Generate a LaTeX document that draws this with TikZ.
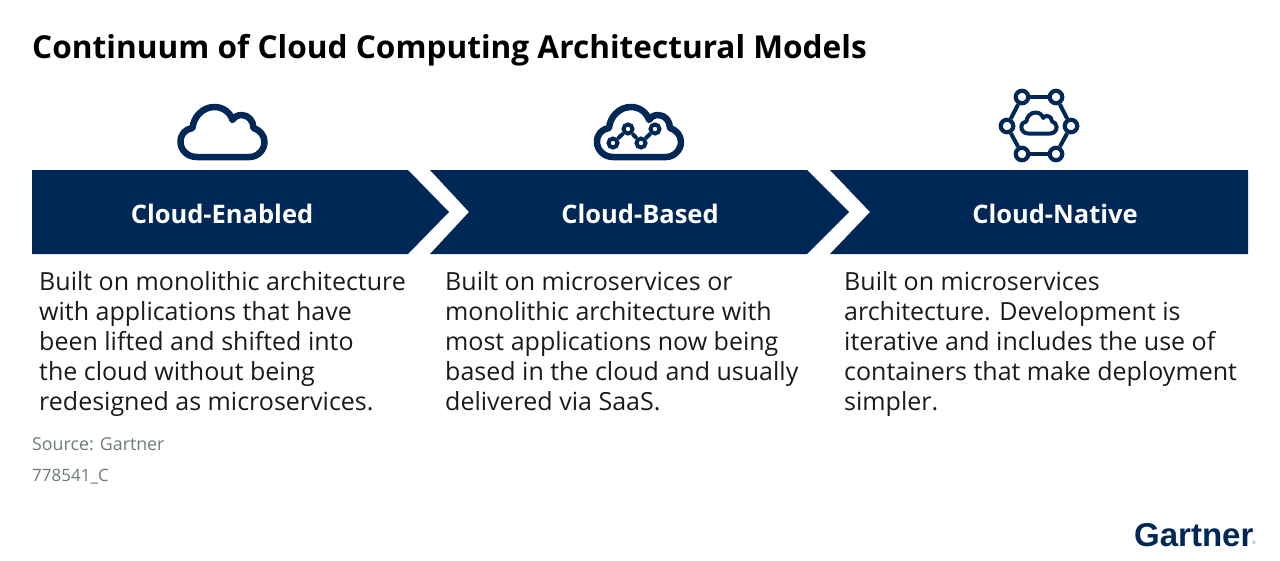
\documentclass[tikz,border=0pt]{standalone}
\usepackage{fontspec}
\setmainfont{Open Sans}
\newfontfamily\logofont{Liberation Sans}
\usepackage{xcolor}
\definecolor{navy}{HTML}{002856}
\definecolor{bodyink}{HTML}{1A1A1A}
\definecolor{sourceink}{HTML}{6E7A7B}
\newcommand{\cloudpath}{(-26,25) .. controls (-35,25) and (-42,18) .. (-42,10)
    .. controls (-42,2) and (-37,-3) .. (-30,-4)
    .. controls (-29,-15) and (-20,-25) .. (-8,-25)
    .. controls (1,-25) and (8,-19) .. (10,-12)
    .. controls (12,-15) and (15,-17) .. (19,-17)
    .. controls (26,-17) and (31,-11) .. (31,-4)
    .. controls (37,-2) and (42,3) .. (42,10)
    .. controls (42,18) and (35,25) .. (27,25) -- cycle}
\tikzset{
    banner/.style = {fill=navy},
    bannerlabel/.style = {text=white, font=\bfseries\fontsize{25.5}{28}\selectfont},
    bodytext/.style = {anchor=north west, inner sep=0pt, align=left, text=bodyink, font=\fontsize{25}{30}\selectfont},
    sourcetext/.style = {anchor=base west, inner sep=0pt, text=sourceink, font=\fontsize{17.8}{20}\selectfont},
    iconline/.style = {draw=navy, line width=6.5, line join=round},
    linedot/.style = {circle, draw=navy, fill=white, line width=4, minimum size=9, inner sep=0pt},
    hexdot/.style = {circle, draw=navy, fill=white, line width=4.2, minimum size=12.5, inner sep=0pt},
    iconedge/.style = {draw=navy, line width=4}
}
\begin{document}
\begin{tikzpicture}[x=1pt, y=-1pt]

    \useasboundingbox (0,0) rectangle (1280,560);

    \node[anchor=base west, inner sep=0pt, font=\bfseries\fontsize{31.6}{34}\selectfont] (title) at (32,58) {Continuum of Cloud Computing Architectural Models};

    % banners
    \fill[banner] (32,170) -- (408,170) -- (449,212) -- (408,254) -- (32,254) -- cycle;
    \fill[banner] (430,170) -- (807,170) -- (849,212) -- (807,254) -- (430,254) -- (469,212) -- cycle;
    \fill[banner] (830,170) -- (1248,170) -- (1248,254) -- (830,254) -- (870,212) -- cycle;

    \node[bannerlabel] (enabled) at (222,214) {Cloud-Enabled};
    \node[bannerlabel] (based) at (640,214) {Cloud-Based};
    \node[bannerlabel] (native) at (1055,214) {Cloud-Native};

    % icons
    \draw[iconline, shift={(222.5,132)}] \cloudpath;
    \draw[iconline, shift={(639,132)}] \cloudpath;
    \node[linedot] (p1) at (613,143) {};
    \node[linedot] (p2) at (628,129) {};
    \node[linedot] (p3) at (641,143) {};
    \node[linedot] (p4) at (655,129) {};
    \draw[iconedge] (p1) -- (p2);
    \draw[iconedge] (p2) -- (p3);
    \draw[iconedge] (p3) -- (p4);

    \node[hexdot] (h1) at (1022,97) {};
    \node[hexdot] (h2) at (1056,97) {};
    \node[hexdot] (h3) at (1071,126) {};
    \node[hexdot] (h4) at (1056,154) {};
    \node[hexdot] (h5) at (1022,154) {};
    \node[hexdot] (h6) at (1007,126) {};
    \draw[iconedge] (h1) -- (h2);
    \draw[iconedge] (h2) -- (h3);
    \draw[iconedge] (h3) -- (h4);
    \draw[iconedge] (h4) -- (h5);
    \draw[iconedge] (h5) -- (h6);
    \draw[iconedge] (h6) -- (h1);
    \draw[iconline, line width=4, shift={(1039,123)}, scale=0.42] \cloudpath;

    % text
    \node[bodytext] (enabledtext) at (39,271) {Built on monolithic architecture\\with applications that have\\been lifted and shifted into\\the cloud without being\\redesigned as microservices.};
    \node[bodytext] (basedtext) at (445,271) {Built on microservices or\\monolithic architecture with\\most applications now being\\based in the cloud and usually\\delivered via SaaS.};
    \node[bodytext] (nativetext) at (844,271) {Built on microservices\\architecture. Development is\\iterative and includes the use of\\containers that make deployment\\simpler.};

    \node[sourcetext] (source) at (32,450) {Source: Gartner};
    \node[sourcetext, font=\fontsize{17}{20}\selectfont] (docid) at (32,481) {778541\_C};

    \node[anchor=base west, inner sep=0pt, text=navy, font=\logofont\bfseries\fontsize{33}{36}\selectfont] (logo) at (1134,546) {Gartner};
    \node[anchor=center, inner sep=0pt, text=sourceink, font=\logofont\fontsize{5}{6}\selectfont] (regmark) at (1254,543) {®};

\end{tikzpicture}
\end{document}
